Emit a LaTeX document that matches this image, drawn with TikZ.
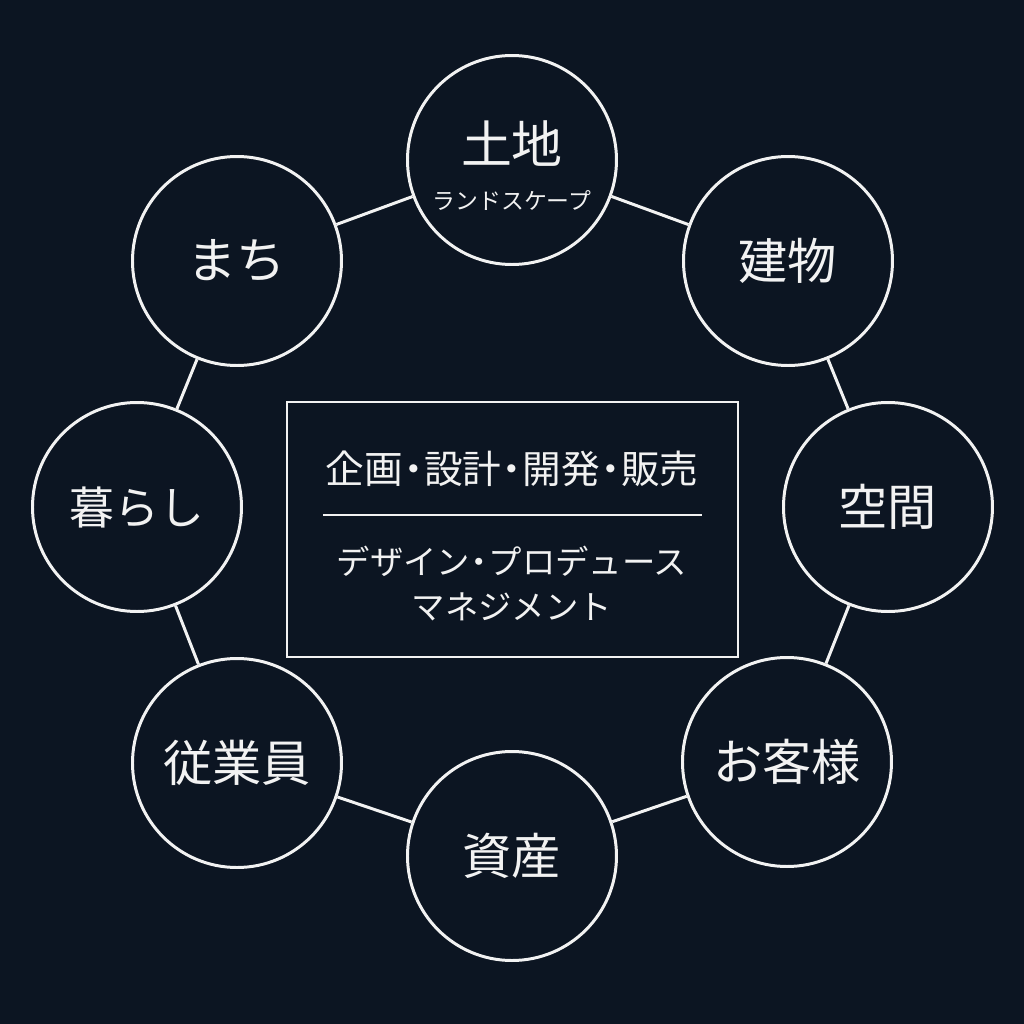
\documentclass[tikz,border=0pt]{standalone}
\usepackage{fontspec}
\setmainfont{Noto Sans CJK JP}
\usetikzlibrary{positioning}
\definecolor{night}{HTML}{0C1522}
\definecolor{chalk}{HTML}{F2F2F2}
\newcommand{\middot}{\makebox[0.55em]{・}}
\tikzset{
    ring/.style={circle, draw=chalk, line width=1.7pt, fill=night,
                 minimum size=4.18cm, inner sep=0pt, text=chalk,
                 font=\fontsize{28}{32}\selectfont},
    panel/.style={draw=chalk, line width=1.5pt, minimum width=9.02cm,
                  minimum height=5.1cm, inner sep=0pt},
    link/.style={draw=chalk, line width=1.7pt},
    caption/.style={text=chalk, inner sep=0pt, align=center},
}

\begin{document}
\begin{tikzpicture}

    \fill[night] (-10.24,-10.24) rectangle (10.24,10.24);
    \useasboundingbox (-10.24,-10.24) rectangle (10.24,10.24);

    \node[ring] (land) at (0,7.04) {};
    \node[caption, font=\fontsize{29}{33}\selectfont] (landname) at (0,7.36) {土地};
    \node[caption, font=\fontsize{13}{15}\selectfont] (landsub) at (0,6.24) {ランドスケープ};
    \node[ring] (building) at (5.52,5.02) {建物};
    \node[ring] (space) at (7.52,0.10) {空間};
    \node[ring] (guest) at (5.50,-5.00) {お客様};
    \node[ring] (asset) at (0,-6.88) {資産};
    \node[ring] (staff) at (-5.50,-5.02) {従業員};
    \node[ring, font=\fontsize{25.5}{30}\selectfont] (living) at (-7.50,0.10) {暮らし};
    \node[ring] (town) at (-5.50,5.02) {まち};

    \draw[link] (town) -- (land);
    \draw[link] (land) -- (building);
    \draw[link] (building) -- (space);
    \draw[link] (space) -- (guest);
    \draw[link] (guest) -- (asset);
    \draw[link] (asset) -- (staff);
    \draw[link] (staff) -- (living);
    \draw[link] (living) -- (town);

    \node[panel] (center) at (0.01,-0.35) {};
    \node[caption, font=\fontsize{22}{26}\selectfont] (business) at (0,0.86) {企画\middot 設計\middot 開発\middot 販売};
    \coordinate (rule-l) at (-3.78,-0.06);
    \coordinate (rule-r) at (3.80,-0.06);
    \draw[draw=chalk, line width=0.8pt] (rule-l) -- (rule-r);
    \node[caption, font=\fontsize{19}{22}\selectfont] (design) at (0,-0.98) {デザイン\middot プロデュース};
    \node[caption, font=\fontsize{19}{22}\selectfont] (manage) at (0,-1.90) {マネジメント};

\end{tikzpicture}
\end{document}
